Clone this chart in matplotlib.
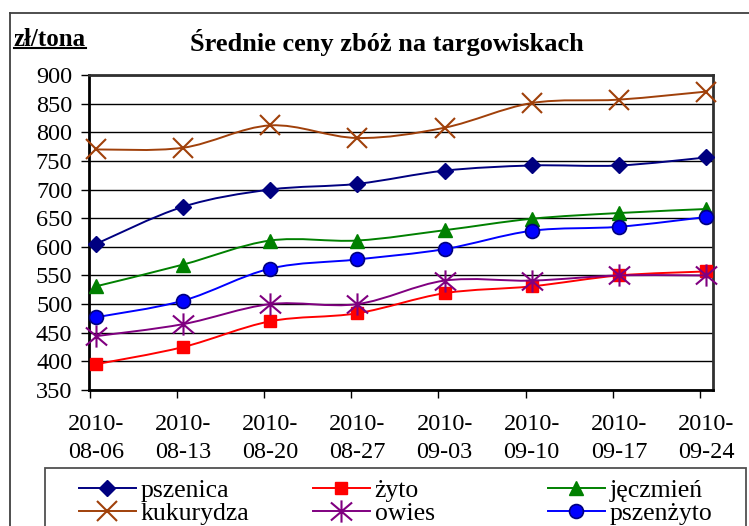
import matplotlib
matplotlib.use("Agg")
import matplotlib.pyplot as plt
from matplotlib.path import Path
from matplotlib.patches import PathPatch, Rectangle
from matplotlib.lines import Line2D
import numpy as np

dates = ["2010-\n08-06", "2010-\n08-13", "2010-\n08-20", "2010-\n08-27",
         "2010-\n09-03", "2010-\n09-10", "2010-\n09-17", "2010-\n09-24"]
pszenica = [605, 670, 700, 710, 733, 742, 742, 756]
zyto = [395, 425, 470, 484, 519, 531, 550, 557]
jeczmien = [531, 569, 611, 611, 629, 649, 659, 666]
kukurydza = [770, 773, 812, 790, 808, 851, 857, 871]
owies = [444, 465, 500, 500, 541, 541, 550, 550]
pszenzyto = [477, 506, 562, 578, 596, 628, 635, 652]

W, H = 749, 526
plt.rcParams['font.family'] = ['Liberation Serif', 'DejaVu Serif']
fig = plt.figure(figsize=(W / 100, H / 100), dpi=100)

def fx(px):
    return px / W

def fy(py):
    return 1 - py / H

ax = fig.add_axes([fx(89), fy(390), fx(713) - fx(89), fy(75) - fy(390)])
x = np.arange(len(dates))

def smooth_path(xs, ys, t=1 / 6):
    pts = np.column_stack([xs, ys]).astype(float)
    n = len(pts)
    verts = [pts[0]]
    codes = [Path.MOVETO]
    for i in range(n - 1):
        p0 = pts[max(i - 1, 0)]
        p1 = pts[i]
        p2 = pts[i + 1]
        p3 = pts[min(i + 2, n - 1)]
        c1 = p1 + (p2 - p0) * t
        c2 = p2 - (p3 - p1) * t
        verts += [c1, c2, p2]
        codes += [Path.CURVE4] * 3
    return Path(verts, codes)

aster = Path([(-1, -0.85), (1, 0.85), (-1, 0.85), (1, -0.85), (0, -1.05), (0, 1.05)],
             [Path.MOVETO, Path.LINETO, Path.MOVETO, Path.LINETO, Path.MOVETO, Path.LINETO])

series = [
    ("pszenica", pszenica, "#000080", dict(marker="D", markersize=8, markerfacecolor="#000080", markeredgecolor="#000080")),
    ("żyto", zyto, "#FF0000", dict(marker="s", markersize=8, markerfacecolor="#FF0000", markeredgecolor="#FF0000")),
    ("jęczmień", jeczmien, "#008000", dict(marker="^", markersize=9.5, markerfacecolor="#008000", markeredgecolor="#008000")),
    ("kukurydza", kukurydza, "#A0400A", dict(marker="x", markersize=15, markeredgewidth=1.5, markeredgecolor="#A0400A")),
    ("owies", owies, "#800080", dict(marker=aster, markersize=16, markeredgewidth=1.5, markeredgecolor="#800080")),
    ("pszenżyto", pszenzyto, "#0000FF", dict(marker="o", markersize=10, markerfacecolor="#0000FF", markeredgecolor="#000080", markeredgewidth=1.2)),
]

handles = []
for z, (name, vals, col, mk) in enumerate(series):
    patch = PathPatch(smooth_path(x, vals), facecolor="none", edgecolor=col, lw=1.4, zorder=3 + z)
    ax.add_patch(patch)
    ax.plot(x, vals, linestyle="none", clip_on=False, zorder=3.5 + z, **mk)
    handles.append(Line2D([], [], color=col, lw=1.4, **mk))

ax.set_xlim(-0.08, 7.08)
ax.set_ylim(350, 900)
ax.set_yticks(np.arange(350, 901, 50))
ax.set_xticks(x)
ax.set_xticklabels(dates, linespacing=1.45)
ax.set_xticks(x - 0.07, minor=True)
ax.tick_params(axis="x", which="major", length=0, pad=17, labelsize=17.5)
ax.tick_params(axis="x", which="minor", length=6, width=1, direction="out")
ax.tick_params(axis="y", length=6, width=1, direction="out", pad=6, labelsize=17.5)
ax.grid(axis="y", color="black", lw=1)
ax.set_axisbelow(True)
for s in ["left", "bottom"]:
    ax.spines[s].set_linewidth(2)
    ax.spines[s].set_color("black")
for s in ["top", "right"]:
    ax.spines[s].set_linewidth(2)
    ax.spines[s].set_color("#303030")

# outer frame
fig.add_artist(Line2D([fx(10), fx(10)], [fy(13), 0], color="#404040", lw=1.3))
fig.add_artist(Line2D([fx(10), 1], [fy(13), fy(13)], color="#404040", lw=1.3))

fig.text(fx(387), fy(42), "Średnie ceny zbóż na targowiskach", ha="center", va="center",
         fontsize=19, fontweight="bold")
unit = fig.text(fx(14), fy(39), "zł/tona", ha="left", va="center", fontsize=18, fontweight="bold")
fig.canvas.draw()
bb = unit.get_window_extent()
fig.add_artist(Line2D([fx(bb.x0), fx(bb.x1)], [fy(48), fy(48)], color="black", lw=1.5))

# legend box
fig.add_artist(Rectangle((fx(45), fy(560)), fx(746) - fx(45), fy(468) - fy(560),
                         transform=fig.transFigure, facecolor="white", edgecolor="#505050", lw=1.3))
cols = [(79, [0, 3]), (313, [1, 4]), (548, [2, 5])]
for px, idx in cols:
    fig.legend([handles[i] for i in idx], [series[i][0] for i in idx], loc="upper left",
               bbox_to_anchor=(fx(px), fy(479)), frameon=False, borderpad=0, borderaxespad=0,
               handlelength=2.2, handletextpad=0.2, labelspacing=0.0, fontsize=18.5)

fig.savefig("out.png", dpi=100)
